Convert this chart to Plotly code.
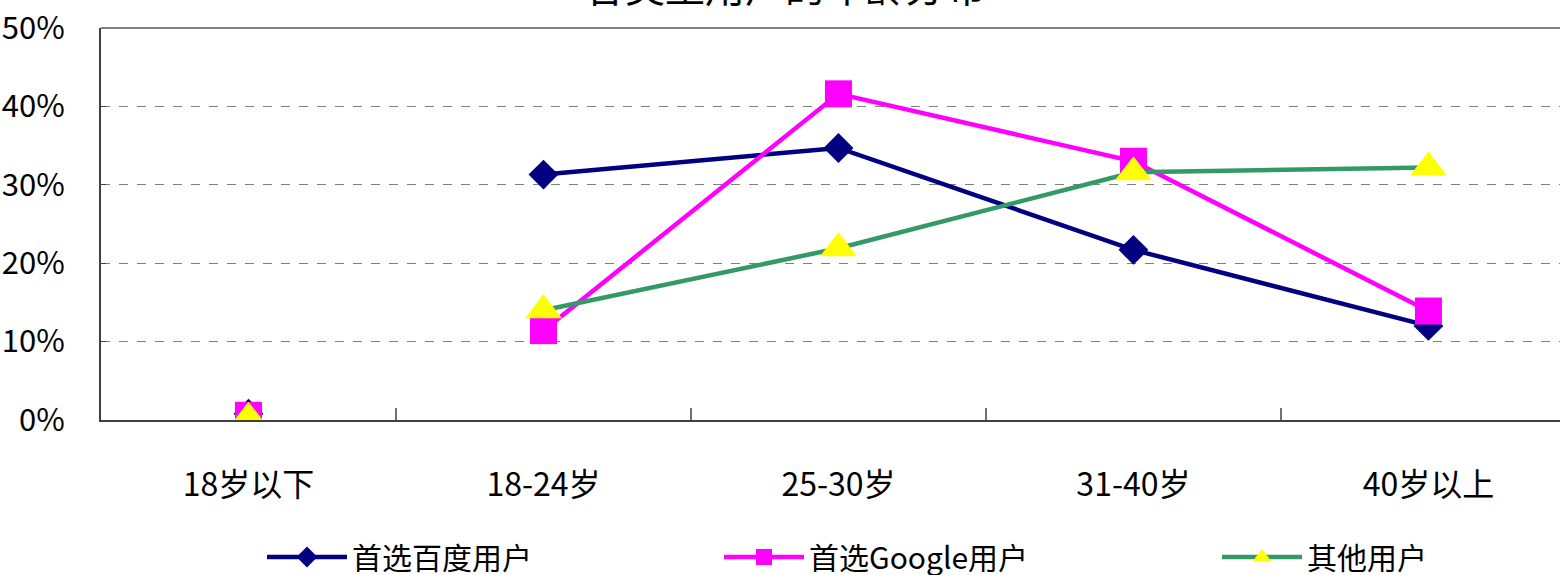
import plotly.graph_objects as go

categories = ["18岁以下", "18-24岁", "25-30岁", "31-40岁", "40岁以上"]
baidu = [0.8, 31.3, 34.7, 21.7, 12.0]
google = [0.6, 11.4, 41.6, 33.0, 13.9]
others = [0.3, 14.0, 21.9, 31.6, 32.2]
series_names = ["首选百度用户", "首选Google用户", "其他用户"]
y_ticks = [0, 10, 20, 30, 40, 50]
y_tick_text = ["0%", "10%", "20%", "30%", "40%", "50%"]
title_text = "各类型用户的年龄分布"

FONT = "Noto Sans CJK SC"
styles = [
    dict(line=dict(color="#000080", width=4.5), marker=dict(symbol="diamond", size=23, color="#000080")),
    dict(line=dict(color="#FF00FF", width=4.5), marker=dict(symbol="square", size=27, color="#FF00FF")),
    dict(line=dict(color="#339966", width=4.5), marker=dict(symbol="triangle-up", size=32, color="#FFFF00")),
]
legends = ["legend", "legend2", "legend3"]

fig = go.Figure()
for vals, name, st, lg in zip([baidu, google, others], series_names, styles, legends):
    fig.add_trace(go.Scatter(x=categories[1:], y=vals[1:], name=name, mode="lines+markers",
                             line=st["line"], marker=st["marker"], legend=lg))
    fig.add_trace(go.Scatter(x=categories[:1], y=vals[:1], name=name, mode="markers",
                             marker=st["marker"], showlegend=False))

L, T, B, R = 101, 28, 420, 1560
pw, ph = R - L, B - T
def lx(px):
    return (px - L) / pw
def ly(py):
    return (B - py) / ph

leg_common = dict(orientation="h", yanchor="middle", y=ly(557), xanchor="left",
                  font=dict(family=FONT, size=30, color="#000000"), itemwidth=80,
                  bgcolor="rgba(0,0,0,0)", borderwidth=0)

fig.update_layout(
    width=1560, height=575,
    margin=dict(l=L, r=1560 - R, t=T, b=575 - B, autoexpand=False),
    paper_bgcolor="white", plot_bgcolor="white",
    font=dict(family=FONT, size=30, color="#000000"),
    showlegend=True,
    legend=dict(x=lx(262), **leg_common),
    legend2=dict(x=lx(719), **leg_common),
    legend3=dict(x=lx(1217), **leg_common),
    xaxis=dict(type="category", categoryorder="array", categoryarray=categories,
               range=[-0.5, 4.446], showgrid=False,
               showline=True, linecolor="#404040", linewidth=2,
               ticks="inside", ticklen=12, tickwidth=2, tickcolor="#707070",
               tickson="boundaries", ticklabelstandoff=36,
               tickfont=dict(family=FONT, size=32, color="#000000"), zeroline=False),
    yaxis=dict(range=[0, 50], tickvals=y_ticks, ticktext=y_tick_text,
               showgrid=True, gridcolor="#808080", griddash="dash", gridwidth=1,
               showline=True, linecolor="#404040", linewidth=2,
               ticks="inside", ticklen=5, tickcolor="#404040",
               ticklabelstandoff=28,
               tickfont=dict(family=FONT, size=31, color="#000000"), zeroline=False),
    shapes=[dict(type="line", xref="paper", yref="paper", x0=0, x1=1, y0=1, y1=1,
                 line=dict(color="#808080", width=2))],
    annotations=[dict(text=title_text, xref="paper", yref="paper", x=lx(785), y=ly(16),
                      xanchor="center", yanchor="bottom", showarrow=False,
                      font=dict(family=FONT, size=40, color="#000000"))],
)

fig.write_html("out.html", config={"displayModeBar": False},
               post_script="document.body.style.margin='0';document.body.style.overflow='hidden';")
